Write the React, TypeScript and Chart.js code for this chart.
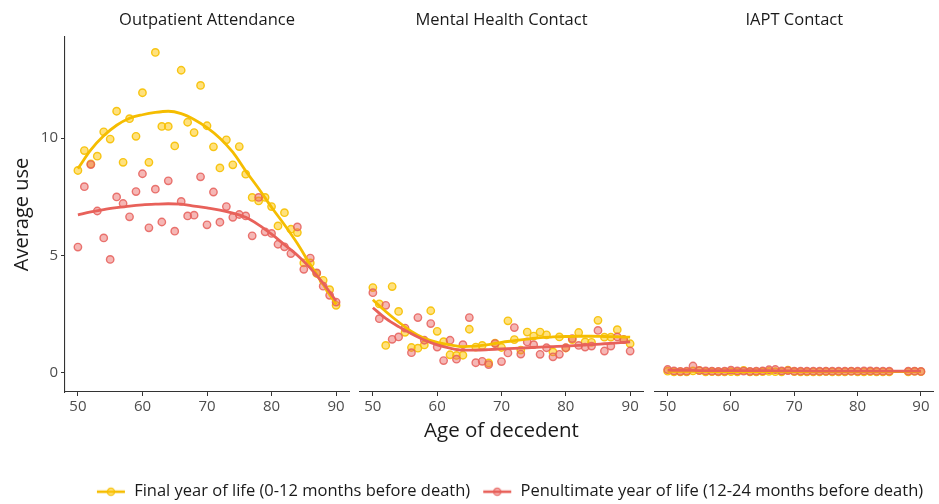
import React, { useEffect, useRef } from "react";
import { Chart, registerables } from "chart.js";
Chart.register(...registerables);

// ---------- data ----------
const AGES = [50, 51, 52, 53, 54, 55, 56, 57, 58, 59, 60, 61, 62, 63, 64, 65, 66, 67, 68, 69, 70, 71, 72, 73, 74, 75, 76, 77, 78, 79, 80, 81, 82, 83, 84, 85, 86, 87, 88, 89, 90];
const FIT_AGES = [50, 52, 54, 56, 58, 60, 62, 64, 66, 68, 70, 72, 74, 76, 78, 80, 82, 84, 86, 88, 90];
const X_TICKS = [50, 60, 70, 80, 90];
const Y_TICKS = [0, 5, 10];
const PANEL_TITLES = ["Outpatient Attendance", "Mental Health Contact", "IAPT Contact"];
const SERIES_LABELS = [
  "Final year of life (0-12 months before death)",
  "Penultimate year of life (12-24 months before death)",
];
const X_TITLE = "Age of decedent";
const Y_TITLE = "Average use";

// Outpatient Attendance
const OUT_FINAL = [8.62, 9.47, 8.9, 9.23, 10.27, 9.96, 11.15, 8.97, 10.83, 10.08, 11.94, 8.97, 13.66, 10.5, 10.5, 9.67, 12.9, 10.68, 10.24, 12.25, 10.53, 9.63, 8.73, 9.93, 8.86, 9.64, 8.46, 7.47, 7.32, 7.47, 7.08, 6.25, 6.82, 6.11, 5.97, 4.67, 4.67, 4.22, 3.93, 3.53, 2.86];
const OUT_PEN = [5.35, 7.93, 8.87, 6.89, 5.74, 4.82, 7.49, 7.21, 6.64, 7.72, 8.48, 6.17, 7.82, 6.42, 8.18, 6.03, 7.3, 6.68, 6.71, 8.35, 6.3, 7.7, 6.41, 7.08, 6.62, 6.74, 6.68, 5.83, 7.47, 6.0, 5.93, 5.47, 5.36, 5.07, 6.21, 4.4, 4.88, 4.25, 3.68, 3.29, 3.0];
const OUT_FINAL_FIT = [8.7, 9.5, 10.1, 10.55, 10.85, 11.0, 11.1, 11.15, 11.05, 10.8, 10.45, 10.0, 9.4, 8.6, 7.85, 7.05, 6.3, 5.5, 4.6, 3.75, 2.9];
const OUT_PEN_FIT = [6.72, 6.85, 6.95, 7.03, 7.1, 7.15, 7.18, 7.2, 7.18, 7.1, 7.02, 6.93, 6.8, 6.62, 6.3, 5.9, 5.45, 5.0, 4.45, 3.8, 3.05];

// Mental Health Contact
const MH_FINAL = [3.62, 2.92, 1.15, 3.66, 2.6, 1.71, 1.06, 1.03, 1.17, 2.63, 1.75, 1.31, 0.75, 0.72, 0.73, 1.84, 1.08, 1.15, 0.4, 1.25, 1.06, 2.2, 1.4, 0.95, 1.72, 1.55, 1.72, 1.6, 0.87, 1.51, 1.04, 1.4, 1.7, 1.3, 1.28, 2.22, 1.5, 1.5, 1.82, 1.4, 1.22];
const MH_PEN = [3.4, 2.29, 2.86, 1.41, 1.51, 1.89, 0.84, 2.34, 1.37, 2.08, 1.08, 0.5, 1.37, 0.56, 1.18, 2.34, 0.41, 0.47, 0.33, 1.23, 0.46, 0.83, 1.91, 0.78, 1.3, 1.18, 0.77, 1.05, 0.66, 0.77, 1.05, 1.44, 1.15, 1.08, 1.12, 1.79, 0.91, 1.12, 1.51, 1.4, 0.91];
const MH_FINAL_FIT = [3.1, 2.6, 2.15, 1.75, 1.45, 1.28, 1.17, 1.1, 1.12, 1.18, 1.28, 1.35, 1.42, 1.48, 1.51, 1.53, 1.54, 1.54, 1.53, 1.52, 1.5];
const MH_PEN_FIT = [2.76, 2.3, 1.95, 1.65, 1.38, 1.17, 1.03, 0.95, 0.95, 0.97, 1.0, 1.02, 1.05, 1.08, 1.1, 1.12, 1.15, 1.18, 1.22, 1.26, 1.3];

// IAPT Contact
const IAPT_FINAL = [0.05, 0.02, 0.02, 0.02, 0.06, 0.07, 0.02, 0.03, 0.02, 0.02, 0.03, 0.02, 0.08, 0.02, 0.02, 0.03, 0.04, 0.03, 0.02, 0.09, 0.03, 0.02, 0.02, 0.02, 0.02, 0.03, 0.02, 0.02, 0.02, 0.04, 0.02, 0.02, 0.03, 0.02, 0.02, 0.02, null, null, 0.02, 0.04, 0.03];
const IAPT_PEN = [0.12, 0.06, 0.04, 0.05, 0.27, 0.08, 0.06, 0.05, 0.04, 0.05, 0.09, 0.06, 0.05, 0.04, 0.05, 0.06, 0.11, 0.12, 0.06, 0.07, 0.05, 0.05, 0.05, 0.05, 0.05, 0.05, 0.05, 0.05, 0.05, 0.05, 0.05, 0.06, 0.06, 0.05, 0.05, 0.05, null, null, 0.05, 0.05, 0.04];
const IAPT_FINAL_FIT = [0.04, 0.04, 0.04, 0.04, 0.03, 0.03, 0.03, 0.03, 0.03, 0.03, 0.03, 0.03, 0.03, 0.03, 0.03, 0.03, 0.03, 0.03, 0.03, 0.03, 0.03];
const IAPT_PEN_FIT = [0.09, 0.08, 0.08, 0.07, 0.07, 0.07, 0.07, 0.07, 0.07, 0.06, 0.06, 0.06, 0.05, 0.05, 0.05, 0.05, 0.05, 0.05, 0.05, 0.05, 0.05];

// ---------- style ----------
const W = 939;
const H = 504;
const FONT = "'Open Sans', 'DejaVu Sans', sans-serif";
const YELLOW_LINE = "#F5BD00";
const YELLOW_FILL = "rgba(255, 200, 20, 0.55)";
const YELLOW_BORDER = "rgba(246, 192, 0, 0.9)";
const RED_LINE = "#E8615A";
const RED_FILL = "rgba(232, 96, 92, 0.45)";
const RED_BORDER = "rgba(230, 95, 90, 0.85)";
const AXIS_COLOR = "#333333";
const TICK_TEXT = "#4D4D4D";
const TEXT = "#1A1A1A";

const PANELS = [
  { left: 65, right: 349, final: OUT_FINAL, pen: OUT_PEN, finalFit: OUT_FINAL_FIT, penFit: OUT_PEN_FIT },
  { left: 360, right: 643, final: MH_FINAL, pen: MH_PEN, finalFit: MH_FINAL_FIT, penFit: MH_PEN_FIT },
  { left: 655, right: 939, final: IAPT_FINAL, pen: IAPT_PEN, finalFit: IAPT_FINAL_FIT, penFit: IAPT_PEN_FIT },
];
const PLOT_BOTTOM = 392;
const PAD_BOTTOM = -6;
const LEGEND_PAD_LEFT = 80;

function makeKey(line: string, fill: string, border: string) {
  const c = document.createElement("canvas");
  c.width = 30;
  c.height = 12;
  const ctx = c.getContext("2d")!;
  ctx.strokeStyle = line;
  ctx.lineWidth = 2.6;
  ctx.beginPath();
  ctx.moveTo(1, 6);
  ctx.lineTo(29, 6);
  ctx.stroke();
  ctx.beginPath();
  ctx.arc(15, 6, 3.6, 0, Math.PI * 2);
  ctx.fillStyle = fill;
  ctx.fill();
  ctx.lineWidth = 1.3;
  ctx.strokeStyle = border;
  ctx.stroke();
  return c;
}

function buildConfig(idx: number): any {
  const p = PANELS[idx];
  const first = idx === 0;
  const hasLegend = idx === 1;
  const padLeft = hasLegend ? LEGEND_PAD_LEFT : 0;
  const pts = (vals: (number | null)[]) => AGES.map((a, i) => ({ x: a, y: vals[i] }));
  const fit = (vals: number[]) => FIT_AGES.map((a, i) => ({ x: a, y: vals[i] }));

  const datasets: any[] = [
    {
      type: "line", label: "pen fit", data: fit(p.penFit), borderColor: RED_LINE, borderWidth: 2.8,
      pointRadius: 0, cubicInterpolationMode: "monotone", fill: false,
    },
    {
      type: "line", label: "final fit", data: fit(p.finalFit), borderColor: YELLOW_LINE, borderWidth: 2.8,
      pointRadius: 0, cubicInterpolationMode: "monotone", fill: false,
    },
    {
      type: "scatter", label: SERIES_LABELS[1], data: pts(p.pen), backgroundColor: RED_FILL, borderColor: RED_BORDER,
      borderWidth: 1.4, pointRadius: 3.7,
    },
    {
      type: "scatter", label: SERIES_LABELS[0], data: pts(p.final), backgroundColor: YELLOW_FILL, borderColor: YELLOW_BORDER,
      borderWidth: 1.4, pointRadius: 3.7,
    },
  ];

  const keys = [makeKey(YELLOW_LINE, YELLOW_FILL, YELLOW_BORDER), makeKey(RED_LINE, RED_FILL, RED_BORDER)];

  return {
    type: "scatter",
    data: { datasets },
    options: {
      animation: false,
      responsive: false,
      events: [],
      layout: { padding: { top: 0, bottom: PAD_BOTTOM, left: padLeft, right: 0 } },
      plugins: {
        tooltip: { enabled: false },
        title: {
          display: true,
          text: PANEL_TITLES[idx],
          fullSize: false,
          position: "top",
          color: TEXT,
          font: { family: FONT, size: 16.5, weight: "normal", lineHeight: 1.2 },
          padding: { top: 10, bottom: 7.2 },
        },
        legend: hasLegend
          ? {
              display: true,
              position: "bottom",
              align: "center",
              labels: {
                usePointStyle: true,
                pointStyleWidth: 30,
                boxHeight: 12,
                padding: 12,
                color: TEXT,
                font: { family: FONT, size: 16.5 },
                generateLabels: () =>
                  SERIES_LABELS.map((t, i) => ({
                    text: t,
                    pointStyle: keys[i],
                    fillStyle: "transparent",
                    strokeStyle: "transparent",
                    lineWidth: 0,
                    hidden: false,
                    fontColor: TEXT,
                    datasetIndex: 3 - i,
                  })),
              },
            }
          : { display: false },
      },
      scales: {
        x: {
          type: "linear",
          position: "bottom",
          min: 48,
          max: 92,
          afterBuildTicks: (s: any) => {
            s.ticks = X_TICKS.map((v) => ({ value: v }));
          },
          afterFit: (s: any) => {
            const L = s.chart.legend ? s.chart.legend.height : 0;
            s.height = H - PAD_BOTTOM - L - PLOT_BOTTOM;
          },
          grid: { display: true, drawOnChartArea: false, drawTicks: true, tickLength: 4, color: AXIS_COLOR, lineWidth: 1 },
          border: { display: true, color: AXIS_COLOR, width: 1.1 },
          ticks: { color: TICK_TEXT, font: { family: FONT, size: 15 }, padding: 2, maxRotation: 0, autoSkip: false },
          title: hasLegend
            ? {
                display: true,
                text: X_TITLE,
                color: TEXT,
                font: { family: FONT, size: 20.5, lineHeight: 1.2 },
                padding: { top: 0, bottom: 28 },
              }
            : { display: false },
        },
        y: {
          type: "linear",
          position: "left",
          min: -0.84,
          max: 14.32,
          afterBuildTicks: (s: any) => {
            s.ticks = Y_TICKS.map((v) => ({ value: v }));
          },
          afterFit: (s: any) => {
            s.width = p.left - padLeft;
          },
          grid: first
            ? { display: true, drawOnChartArea: false, drawTicks: true, tickLength: 4, color: AXIS_COLOR, lineWidth: 1 }
            : { display: false },
          border: { display: first, color: AXIS_COLOR, width: 1.1 },
          ticks: { display: first, color: TICK_TEXT, font: { family: FONT, size: 15 }, padding: 3 },
          title: first
            ? {
                display: true,
                text: Y_TITLE,
                color: TEXT,
                font: { family: FONT, size: 20, lineHeight: 1.2 },
                padding: { top: 10, bottom: 0 },
              }
            : { display: false },
        },
        yr: {
          type: "linear",
          position: "right",
          display: true,
          afterFit: (s: any) => {
            s.width = W - p.right;
          },
          grid: { display: false },
          border: { display: false },
          ticks: { display: false },
        },
      },
    },
  };
}

function Panel({ idx }: { idx: number }) {
  const ref = useRef<HTMLCanvasElement | null>(null);
  useEffect(() => {
    if (!ref.current) return;
    const chart = new Chart(ref.current, buildConfig(idx));
    return () => chart.destroy();
  }, [idx]);
  return (
    <canvas
      ref={ref}
      width={W}
      height={H}
      style={{ position: "absolute", left: 0, top: 0, width: W, height: H }}
    />
  );
}

export default function App() {
  return (
    <div style={{ position: "absolute", left: 0, top: 0, width: W, height: H, background: "#ffffff", overflow: "hidden" }}>
      <Panel idx={0} />
      <Panel idx={1} />
      <Panel idx={2} />
    </div>
  );
}
